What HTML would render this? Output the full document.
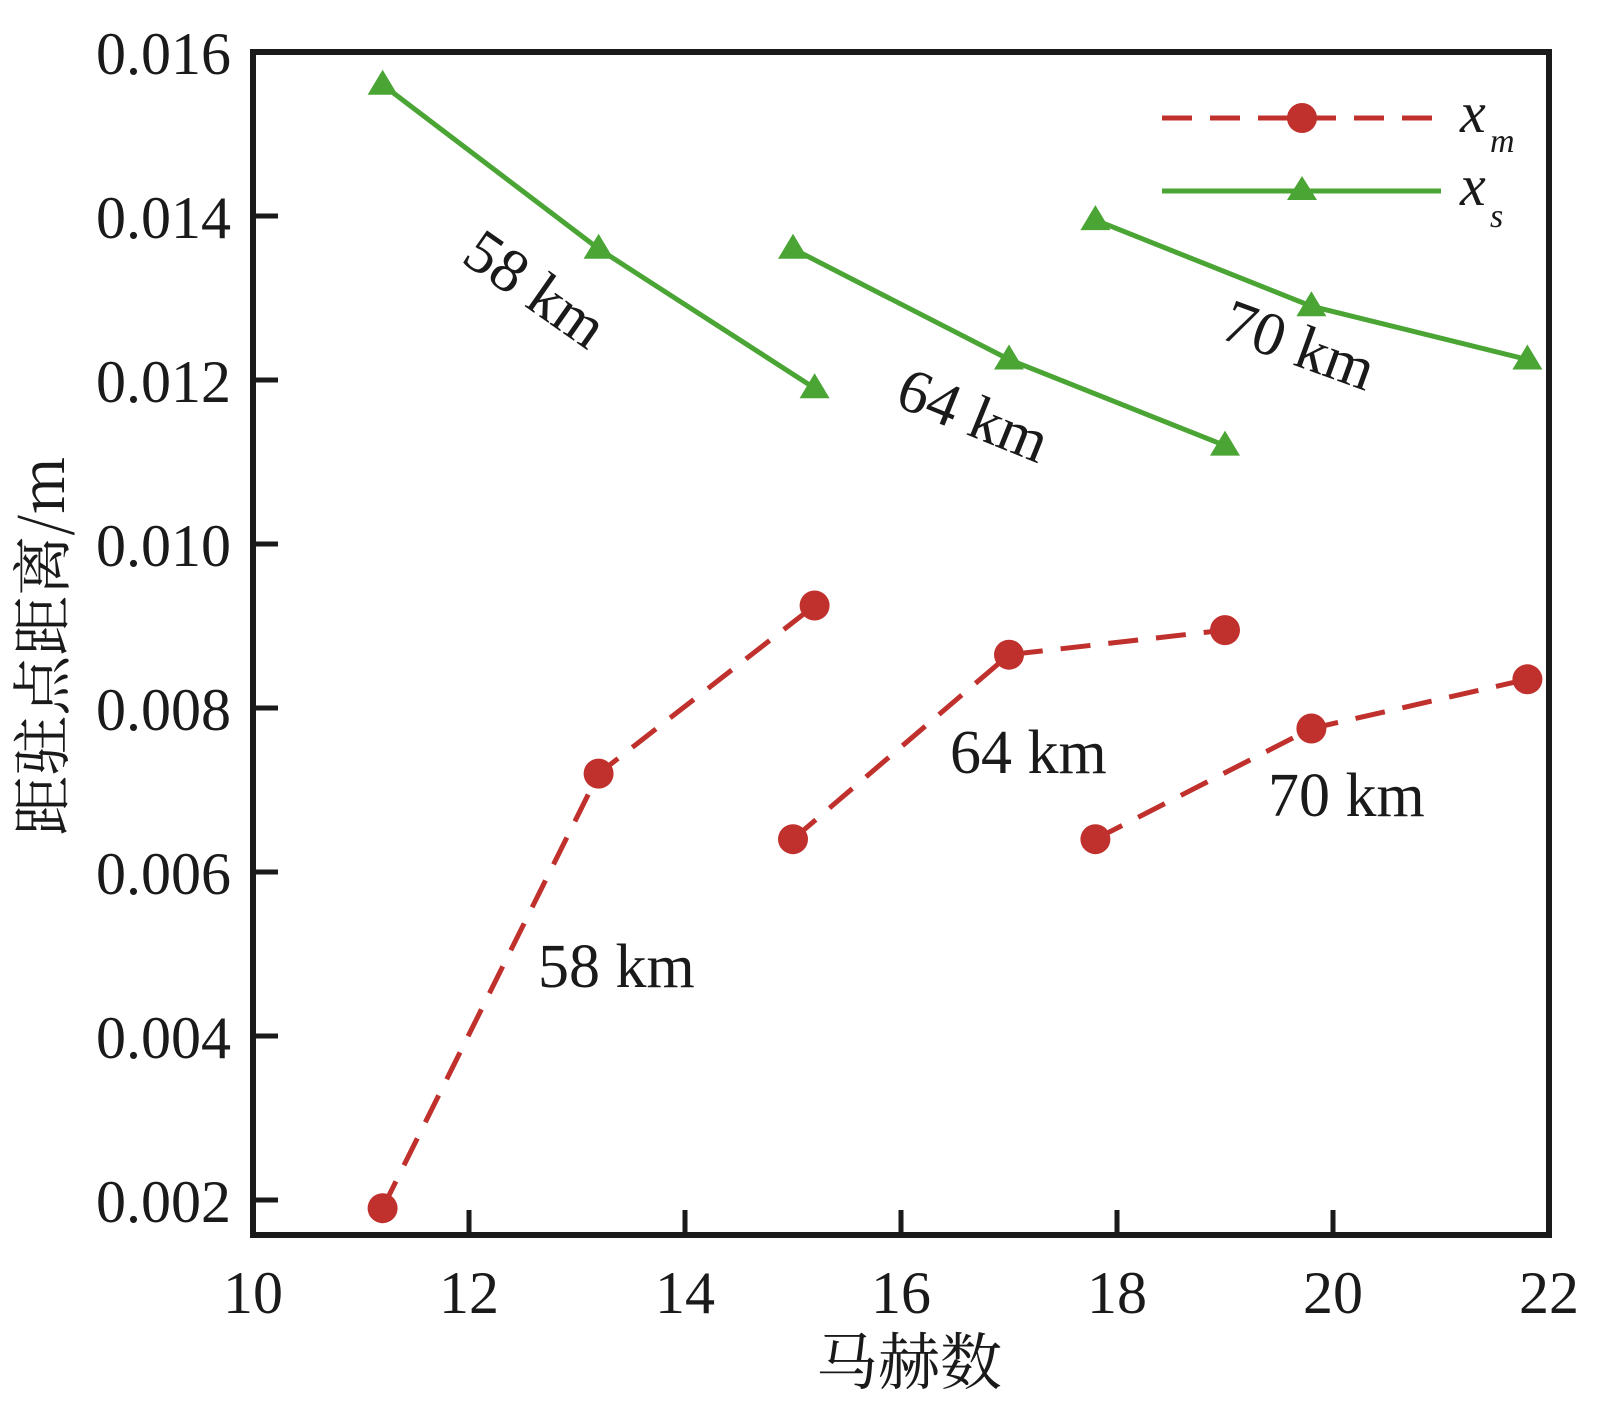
<!DOCTYPE html>
<html><head><meta charset="utf-8"><style>html,body{margin:0;padding:0;background:#fff}</style></head>
<body>
<svg id="s" width="1612" height="1406" viewBox="0 0 1612 1406" xmlns="http://www.w3.org/2000/svg" font-family="Liberation Serif, 'Noto Serif CJK SC', serif">
<g font-size="60" fill="#1a1a1a" text-anchor="end">
<text x="231" y="74">0.016</text><text x="231" y="238">0.014</text><text x="231" y="402">0.012</text>
<text x="231" y="566">0.010</text><text x="231" y="730">0.008</text><text x="231" y="894">0.006</text>
<text x="231" y="1058">0.004</text><text x="231" y="1222">0.002</text>
</g>
<g font-size="60" fill="#1a1a1a" text-anchor="middle">
<text x="253" y="1313">10</text><text x="469" y="1313">12</text><text x="685" y="1313">14</text>
<text x="901" y="1313">16</text><text x="1117" y="1313">18</text><text x="1333" y="1313">20</text><text x="1549" y="1313">22</text>
</g>
<text x="909" y="1384" font-size="62" text-anchor="middle" fill="#1a1a1a" font-family="'Noto Serif CJK SC', serif">马赫数</text>
<text transform="translate(64,646) rotate(-90)" font-size="60" text-anchor="middle" fill="#1a1a1a" font-family="'Noto Serif CJK SC', serif">距驻点距离/m</text>
<g id="plot"></g>
<rect x="253" y="52" width="1296" height="1183" fill="none" stroke="#1a1a1a" stroke-width="6"/>
<g font-size="62" fill="#1a1a1a">
<text transform="translate(532,294) rotate(35)" text-anchor="middle" dominant-baseline="middle">58 km</text>
<text transform="translate(971,421) rotate(22)" text-anchor="middle" dominant-baseline="middle">64 km</text>
<text transform="translate(1297,351) rotate(20)" text-anchor="middle" dominant-baseline="middle">70 km</text>
<text x="538" y="987">58 km</text>
<text x="950" y="773">64 km</text>
<text x="1268" y="816">70 km</text>
</g>
<line x1="1162" y1="118" x2="1441" y2="118" stroke="#c0302c" stroke-width="5" stroke-dasharray="30,18"/>
<circle cx="1302" cy="118" r="15" fill="#c0302c"/>
<line x1="1162" y1="191" x2="1441" y2="191" stroke="#4aa535" stroke-width="5"/>
<polygon points="1302,176 1317,200 1287,200" fill="#4aa535"/>
<text x="1460" y="132" font-size="58" font-style="italic" fill="#1a1a1a">x</text>
<text x="1490" y="152" font-size="34" font-style="italic" fill="#1a1a1a">m</text>
<text x="1460" y="205" font-size="58" font-style="italic" fill="#1a1a1a">x</text>
<text x="1490" y="227" font-size="34" font-style="italic" fill="#1a1a1a">s</text>
</svg>
<script>
var X=function(v){return 253+(v-10)*108},Y=function(v){return 52+(0.016-v)/0.002*164};
var g=document.getElementById('plot'),h='';
for(var i=2;i<12;i+=2)h+='<line x1="'+X(10+i)+'" y1="1235" x2="'+X(10+i)+'" y2="1210" stroke="#1a1a1a" stroke-width="5"/>';
for(var j=1;j<8;j++){var yy=Y(0.016-j*0.002);h+='<line x1="253" y1="'+yy+'" x2="278" y2="'+yy+'" stroke="#1a1a1a" stroke-width="5"/>';}
var G=[[[11.2,0.0156],[13.2,0.0136],[15.2,0.0119]],[[15,0.0136],[17,0.01225],[19,0.0112]],[[17.8,0.01395],[19.8,0.0129],[21.8,0.01225]]];
var R=[[[11.2,0.0019],[13.2,0.0072],[15.2,0.00925]],[[15,0.0064],[17,0.00865],[19,0.00895]],[[17.8,0.0064],[19.8,0.00775],[21.8,0.00835]]];
G.forEach(function(s){h+='<polyline fill="none" stroke="#4aa535" stroke-width="5" points="'+s.map(function(p){return X(p[0])+','+Y(p[1])}).join(' ')+'"/>';
s.forEach(function(p){var x=X(p[0]),y=Y(p[1]);h+='<polygon fill="#4aa535" points="'+x+','+(y-15)+' '+(x+15)+','+(y+10)+' '+(x-15)+','+(y+10)+'"/>';});});
R.forEach(function(s){h+='<polyline fill="none" stroke="#c0302c" stroke-width="5" stroke-dasharray="30,18" points="'+s.map(function(p){return X(p[0])+','+Y(p[1])}).join(' ')+'"/>';
s.forEach(function(p){h+='<circle fill="#c0302c" r="15" cx="'+X(p[0])+'" cy="'+Y(p[1])+'"/>';});});
g.innerHTML=h;
</script>
</body></html>
